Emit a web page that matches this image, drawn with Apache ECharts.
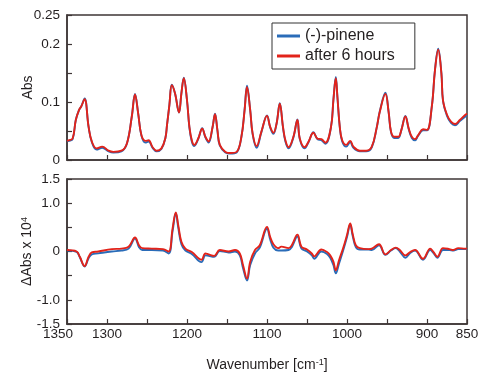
<!DOCTYPE html>
<html>
<head>
<meta charset="utf-8">
<script src="https://cdn.jsdelivr.net/npm/echarts@6/dist/echarts.min.js"></script>
<style>
html, body { margin: 0; padding: 0; background: #fff; }
#chart { width: 500px; height: 375px; }
</style>
</head>
<body>
<div id="chart"></div>
<script>
// upper panel: absorbance spectra
const topWn = [1350,1348,1343,1339,1335,1332,1328,1323,1319,1313, 1306,1298,1292,1282,1275,1269,1265,1261,1257,1252,
  1248,1243,1238,1232,1227,1225,1222,1219,1215,1210, 1207,1204,1200,1197,1194,1191,1186,1181,1177,1173,
  1168,1165,1162,1159,1152,1146,1138,1132,1128,1125, 1121,1118,1113,1107,1100,1096,1092,1088,1084,1080,
  1077,1073,1067,1062,1059,1053,1048,1042,1037,1032, 1027,1020,1017,1014,1012,1009,1006,1001,996,992,
  984,976,969,963,959,952,948,945,941,936, 932,927,923,919,915,911,905,900,894,890,
  886,882,880,875,870,865,859,852,850];
const topPinene = [0.032,0.033,0.036,0.069,0.086,0.093,0.106,0.057,0.031,0.018, 0.021,0.015,0.013,0.015,0.029,0.075,0.114,0.080,0.042,0.030,
  0.032,0.021,0.015,0.019,0.038,0.060,0.095,0.130,0.115,0.082, 0.115,0.142,0.103,0.056,0.032,0.024,0.036,0.055,0.039,0.030,
  0.057,0.080,0.051,0.025,0.013,0.011,0.013,0.040,0.087,0.128, 0.086,0.045,0.021,0.048,0.077,0.056,0.045,0.063,0.098,0.056,
  0.032,0.020,0.039,0.070,0.036,0.020,0.031,0.048,0.036,0.034, 0.028,0.057,0.104,0.143,0.109,0.056,0.032,0.023,0.031,0.021,
  0.015,0.015,0.022,0.055,0.084,0.116,0.083,0.048,0.038,0.038, 0.052,0.076,0.054,0.038,0.034,0.042,0.051,0.051,0.092,0.156,
  0.192,0.150,0.102,0.076,0.064,0.060,0.067,0.075,0.078];
const topAfter = [0.033,0.034,0.037,0.069,0.086,0.093,0.105,0.057,0.032,0.020, 0.023,0.016,0.014,0.016,0.029,0.075,0.113,0.080,0.043,0.033,
  0.034,0.022,0.016,0.020,0.038,0.060,0.095,0.129,0.115,0.082, 0.115,0.141,0.103,0.057,0.034,0.026,0.037,0.054,0.040,0.032,
  0.057,0.079,0.052,0.026,0.014,0.012,0.014,0.040,0.086,0.126, 0.086,0.046,0.024,0.049,0.076,0.057,0.047,0.063,0.097,0.057,
  0.034,0.022,0.040,0.069,0.037,0.022,0.032,0.047,0.037,0.036, 0.030,0.057,0.103,0.141,0.109,0.057,0.034,0.026,0.033,0.023,
  0.016,0.016,0.023,0.055,0.083,0.114,0.083,0.049,0.040,0.040, 0.052,0.075,0.055,0.040,0.036,0.043,0.053,0.052,0.092,0.155,
  0.190,0.149,0.103,0.078,0.066,0.062,0.069,0.078,0.080];

// lower panel: difference spectra (x 10^4)
const diffWn = [1350,1338,1334,1328,1323,1319,1311,1294,1282,1273, 1265,1260,1256,1244,1230,1223,1218,1214,1211,1207,
  1202,1194,1182,1177,1173,1166,1159,1148,1140,1134, 1130,1125,1121,1115,1109,1100,1096,1092,1086,1082,
  1073,1069,1062,1057,1050,1044,1041,1032,1025,1021, 1017,1014,1010,1005,1000,996,993,989,984,973,
  969,960,952,945,939,934,927,921,915,905, 896,892,887,880,872,867,861,852,850];
const diffPinene = [0.02,-0.01,-0.12,-0.31,-0.14,-0.06,-0.04,0.00,0.02,0.06, 0.27,0.09,0.03,0.03,0.02,-0.04,0.42,0.79,0.50,0.15,
  0.02,-0.05,-0.22,-0.08,-0.09,-0.11,0.01,-0.02,0.00,-0.08, -0.34,-0.60,-0.28,-0.04,0.08,0.47,0.25,0.08,0.02,0.02,
  0.03,0.09,0.31,0.06,0.00,-0.08,-0.15,0.00,-0.05,-0.13, -0.28,-0.45,-0.25,0.01,0.30,0.56,0.33,0.09,0.04,0.04,
  0.03,0.13,-0.07,0.02,0.07,0.00,-0.13,-0.03,0.02,-0.17, 0.03,-0.03,-0.13,0.03,0.03,0.02,0.05,0.05,0.05];
const diffAfter = [0.03,0.00,-0.11,-0.30,-0.11,-0.02,0.00,0.05,0.06,0.10, 0.29,0.13,0.07,0.06,0.05,0.00,0.48,0.81,0.55,0.20,
  0.06,-0.01,-0.17,-0.04,-0.06,-0.09,0.03,0.00,0.03,-0.04, -0.28,-0.56,-0.21,0.03,0.13,0.51,0.30,0.15,0.07,0.10,
  0.07,0.13,0.35,0.10,0.04,-0.04,-0.10,0.04,-0.01,-0.08, -0.21,-0.39,-0.18,0.06,0.34,0.58,0.37,0.13,0.07,0.05,
  0.06,0.15,-0.06,0.03,0.08,0.03,-0.08,-0.01,0.03,-0.15, 0.06,-0.01,-0.11,0.07,0.05,0.03,0.07,0.06,0.06];

const xLabels = [1350, 1300, 1200, 1100, 1000, 900, 850];
const absLabels = ['0', '0.1', '0.2', '0.25'];
const diffLabels = ['-1.5', '-1.0', '0', '1.0', '1.5'];

const frame = '#3e3636';
const textColor = '#231f20';
const blue = '#2a6cb8';
const red = '#e2231a';
const font = "'Liberation Sans', Arial, sans-serif";

const pair = (xs, ys) => xs.map((x, i) => [x, ys[i]]);

function xAxisOf (idx, withLabels) {
  return {
    type: 'value',
    gridIndex: idx,
    min: 850,
    max: 1350,
    interval: 50,
    inverse: true,
    axisLine: { show: true, onZero: false, lineStyle: { color: frame, width: 1.5 } },
    axisTick: { show: true, inside: true, length: 5, lineStyle: { color: frame, width: 1.2 } },
    splitLine: { show: false },
    axisLabel: {
      show: withLabels,
      margin: 3,
      color: textColor,
      fontSize: 13.5,
      fontFamily: font,
      formatter: v => {
        if (!xLabels.includes(v)) return '';
        return v === 1350 ? '{l|1350}' : String(v);
      },
      rich: { l: { fontSize: 13.5, fontFamily: font, color: textColor, padding: [0, 18, 0, 0] } }
    },
    name: withLabels ? 'Wavenumber [cm{sup|-1}]' : '',
    nameLocation: 'middle',
    nameGap: 34,
    nameMoveOverlap: false,
    nameTextStyle: {
      fontSize: 14, fontFamily: font, color: textColor,
      rich: { sup: { fontSize: 9, fontFamily: font, color: textColor, verticalAlign: 'top', padding: [0, 0, 4, 0] } }
    }
  };
}

function yAxisOf (idx, min, max, interval, labels, fmt, name) {
  return {
    type: 'value',
    gridIndex: idx,
    min: min,
    max: max,
    interval: interval,
    axisLine: { show: true, onZero: false, lineStyle: { color: frame, width: 1.5 } },
    axisTick: { show: true, inside: true, length: 5, lineStyle: { color: frame, width: 1.2 } },
    splitLine: { show: false },
    axisLabel: {
      color: textColor,
      fontSize: 13.5,
      fontFamily: font,
      margin: 7,
      formatter: v => {
        const s = fmt(v);
        return labels.includes(s) ? s : '';
      }
    },
    name: name,
    nameLocation: 'middle',
    nameGap: 32,
    nameMoveOverlap: false,
    nameTextStyle: {
      fontSize: 14, fontFamily: font, color: textColor,
      rich: { sup: { fontSize: 9, fontFamily: font, color: textColor, padding: [0, 0, 6, 0] } }
    }
  };
}

function lineSeries (name, idx, data, color, z) {
  return {
    name: name,
    type: 'line',
    xAxisIndex: idx,
    yAxisIndex: idx,
    data: data,
    smooth: 0.4,
    showSymbol: false,
    z: z,
    lineStyle: { color: color, width: 1.9 },
    itemStyle: { color: color },
    animation: false
  };
}

const chart = echarts.init(document.getElementById('chart'));
chart.setOption({
  backgroundColor: '#fff',
  animation: false,
  grid: [
    { left: 67, top: 15, width: 400, height: 145, show: true, borderColor: frame, borderWidth: 1.5 },
    { left: 67, top: 179, width: 400, height: 145, show: true, borderColor: frame, borderWidth: 1.5 }
  ],
  legend: {
    data: ['(-)-pinene', 'after 6 hours'],
    orient: 'vertical',
    left: 272,
    top: 23,
    icon: 'rect',
    itemWidth: 23,
    itemHeight: 3,
    itemGap: 4,
    padding: [5, 20, 5, 5],
    borderColor: '#333',
    borderWidth: 1,
    backgroundColor: '#fff',
    textStyle: { fontSize: 16, fontFamily: font, color: textColor }
  },
  xAxis: [xAxisOf(0, false), xAxisOf(1, true)],
  yAxis: [
    yAxisOf(0, 0, 0.25, 0.05, absLabels, v => String(v), 'Abs'),
    yAxisOf(1, -1.5, 1.5, 0.5, diffLabels, v => (v === 0 ? '0' : v.toFixed(1)), 'ΔAbs x 10{sup|4}')
  ],
  series: [
    lineSeries('(-)-pinene', 0, pair(topWn, topPinene), blue, 2),
    lineSeries('after 6 hours', 0, pair(topWn, topAfter), red, 3),
    lineSeries('(-)-pinene', 1, pair(diffWn, diffPinene), blue, 2),
    lineSeries('after 6 hours', 1, pair(diffWn, diffAfter), red, 3)
  ]
});
</script>
</body>
</html>
